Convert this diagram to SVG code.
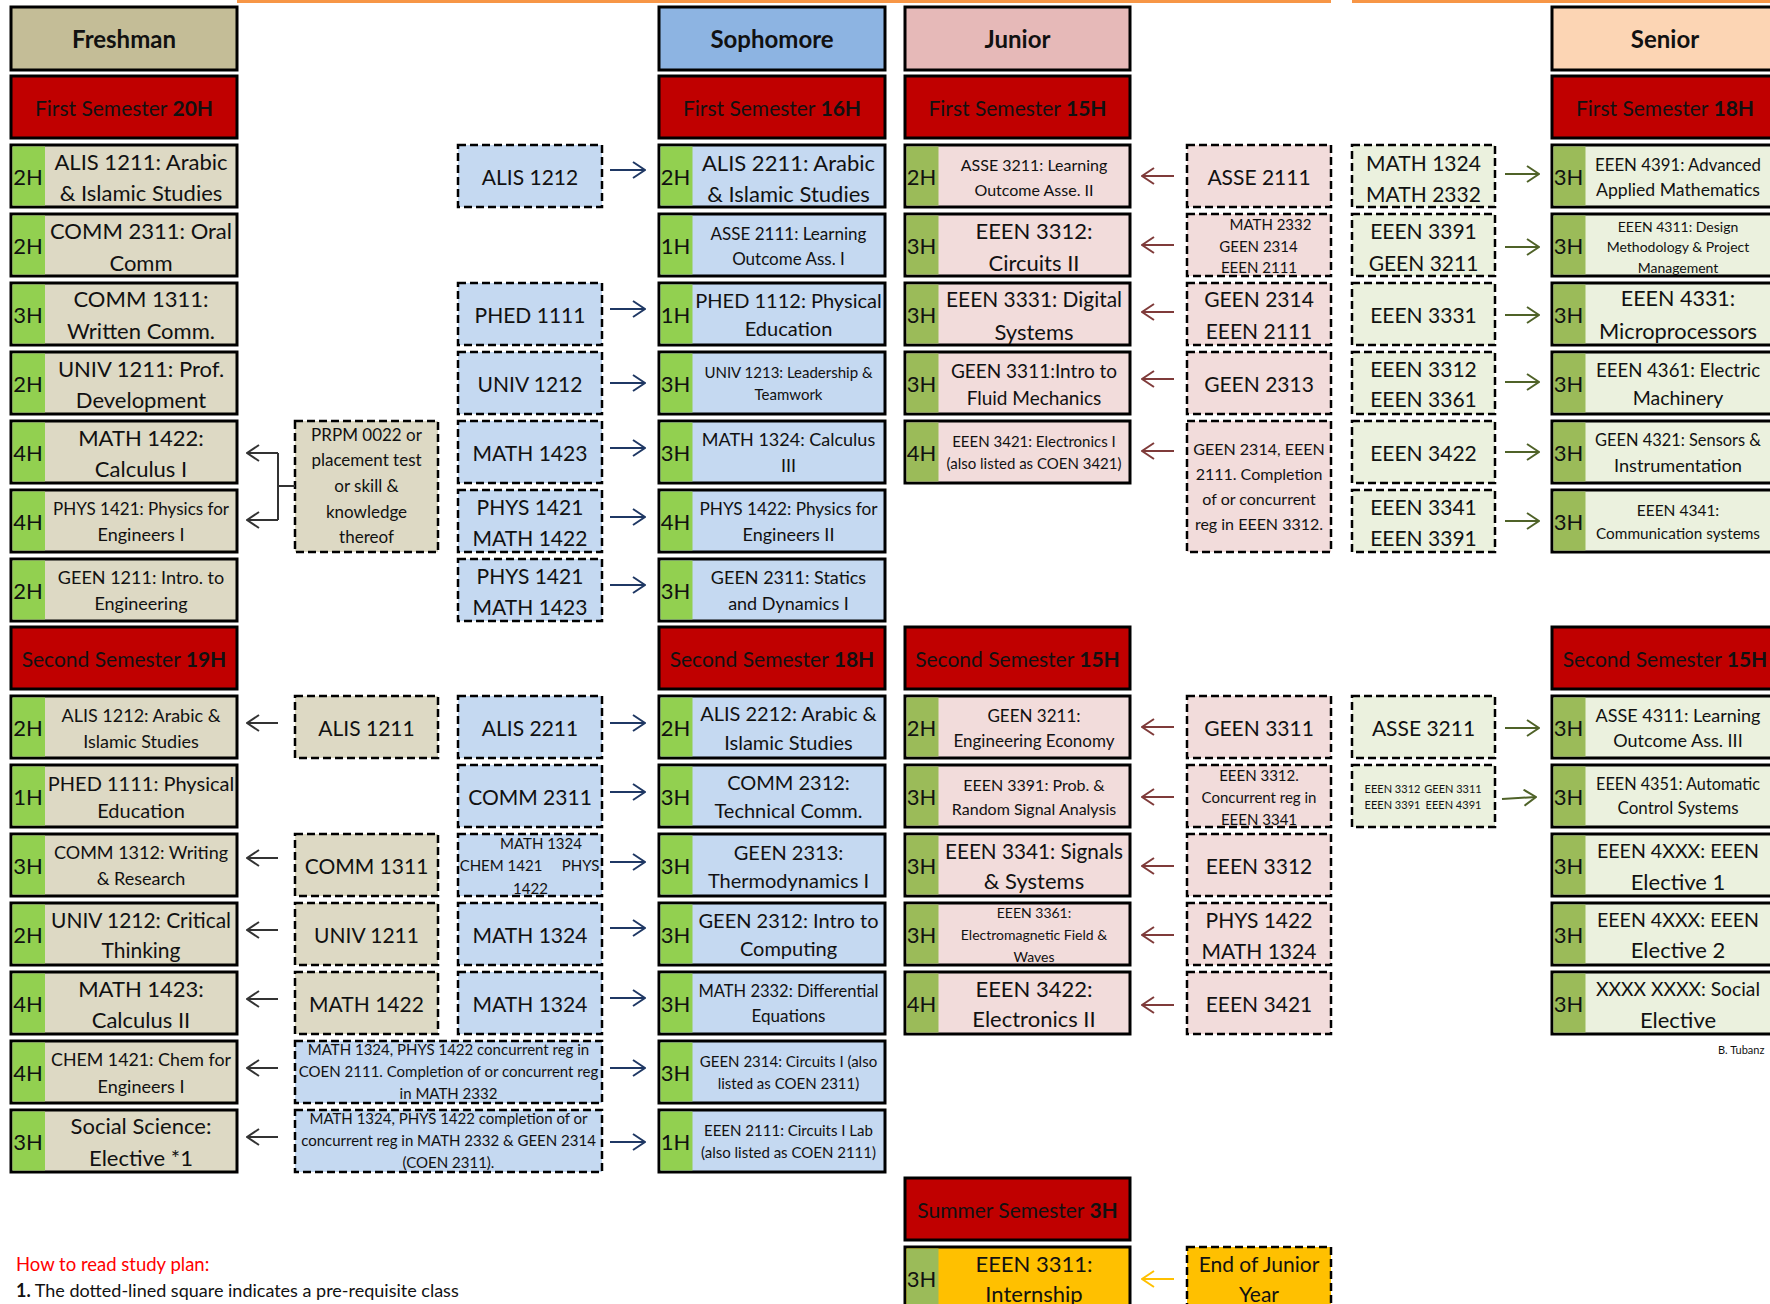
<svg xmlns="http://www.w3.org/2000/svg" width="1770" height="1304" viewBox="0 0 1770 1304">
<style>
text{font-family:Lato,"Liberation Sans",sans-serif;fill:#111;text-anchor:middle;dominant-baseline:central}
.hd{font-weight:bold;font-size:24px}
.sm{font-size:21px}
.bo{font-weight:bold}
.box{stroke:#000;stroke-width:3}
.dash{stroke:#000;stroke-width:2.5;stroke-dasharray:8 4}
.fr{fill:#DDD9C4}.so{fill:#C5D9F1}.ju{fill:#F2DCDB}.se{fill:#EBF1DE}
.frh{fill:#C4BD97}.soh{fill:#8DB4E2}.juh{fill:#E6B9B8}.seh{fill:#FCD5B4}
.red{fill:#C00000}.yl{fill:#FFC000}
.g1{fill:#92D050}.g2{fill:#9BBB59}
.f22{font-size:22px}.f21{font-size:21px}.f20{font-size:20px}.f19{font-size:19px}.f18{font-size:18px}.f17{font-size:17px}.f16{font-size:16px}.f15{font-size:15px}.f14{font-size:14px}.f11{font-size:11px}
.af{stroke:#333;stroke-width:2;fill:none}
.as{stroke:#1F3864;stroke-width:2}
.aj{stroke:#7F3B3A;stroke-width:2}
.ae{stroke:#4F6228;stroke-width:2}
.ay{stroke:#FFC000;stroke-width:2}
</style>
<defs>
<marker id="mf" viewBox="0 0 14 18" refX="13" refY="9" markerWidth="14" markerHeight="18" markerUnits="userSpaceOnUse" orient="auto"><path d="M1,1 L13,9 L1,17" fill="none" stroke="#333" stroke-width="2"/></marker>
<marker id="ms" viewBox="0 0 14 18" refX="13" refY="9" markerWidth="14" markerHeight="18" markerUnits="userSpaceOnUse" orient="auto"><path d="M1,1 L13,9 L1,17" fill="none" stroke="#1F3864" stroke-width="2"/></marker>
<marker id="mj" viewBox="0 0 14 18" refX="13" refY="9" markerWidth="14" markerHeight="18" markerUnits="userSpaceOnUse" orient="auto"><path d="M1,1 L13,9 L1,17" fill="none" stroke="#7F3B3A" stroke-width="2"/></marker>
<marker id="me" viewBox="0 0 14 18" refX="13" refY="9" markerWidth="14" markerHeight="18" markerUnits="userSpaceOnUse" orient="auto"><path d="M1,1 L13,9 L1,17" fill="none" stroke="#4F6228" stroke-width="2"/></marker>
<marker id="my" viewBox="0 0 14 18" refX="13" refY="9" markerWidth="14" markerHeight="18" markerUnits="userSpaceOnUse" orient="auto"><path d="M1,1 L13,9 L1,17" fill="none" stroke="#FFC000" stroke-width="2"/></marker>
</defs>
<rect width="1770" height="1304" fill="#fff"/>
<rect x="237" y="0" width="1094" height="3" fill="#F79646"/>
<rect x="1352" y="0" width="418" height="3" fill="#F79646"/>

<!-- ===== FRESHMAN ===== -->
<g id="fr-head"><rect class="box frh" x="11" y="7" width="226" height="63"/><text class="hd" x="124" y="38.5">Freshman</text></g>
<g id="fr-sem1"><rect class="box red" x="11" y="76" width="226" height="62"/><text class="sm" x="124" y="107">First Semester <tspan class="bo">20H</tspan></text></g>
<g id="fr-alis1211"><rect class="box fr" x="11" y="145" width="226" height="62"/><rect class="g1" x="12.5" y="146.5" width="32.5" height="59"/><text class="f22" x="28" y="176">2H</text><text class="f22"><tspan x="141" y="161">ALIS 1211: Arabic</tspan><tspan x="141" y="192">&amp; Islamic Studies</tspan></text></g>
<g id="fr-comm2311"><rect class="box fr" x="11" y="214" width="226" height="62"/><rect class="g1" x="12.5" y="215.5" width="32.5" height="59"/><text class="f22" x="28" y="245">2H</text><text class="f22"><tspan x="141" y="230">COMM 2311: Oral</tspan><tspan x="141" y="262">Comm</tspan></text></g>
<g id="fr-comm1311"><rect class="box fr" x="11" y="283" width="226" height="62"/><rect class="g1" x="12.5" y="284.5" width="32.5" height="59"/><text class="f22" x="28" y="314">3H</text><text class="f22"><tspan x="141" y="298">COMM 1311:</tspan><tspan x="141" y="330">Written Comm.</tspan></text></g>
<g id="fr-univ1211"><rect class="box fr" x="11" y="352" width="226" height="62"/><rect class="g1" x="12.5" y="353.5" width="32.5" height="59"/><text class="f22" x="28" y="383">2H</text><text class="f22"><tspan x="141" y="368">UNIV 1211: Prof.</tspan><tspan x="141" y="399">Development</tspan></text></g>
<g id="fr-math1422"><rect class="box fr" x="11" y="421" width="226" height="62"/><rect class="g1" x="12.5" y="422.5" width="32.5" height="59"/><text class="f22" x="28" y="452">4H</text><text class="f22"><tspan x="141" y="437">MATH 1422:</tspan><tspan x="141" y="468">Calculus I</tspan></text></g>
<g id="fr-phys1421"><rect class="box fr" x="11" y="490" width="226" height="62"/><rect class="g1" x="12.5" y="491.5" width="32.5" height="59"/><text class="f22" x="28" y="521">4H</text><text class="f18"><tspan x="141" y="508" textLength="176" lengthAdjust="spacingAndGlyphs">PHYS 1421: Physics for</tspan><tspan x="141" y="534">Engineers I</tspan></text></g>
<g id="fr-geen1211"><rect class="box fr" x="11" y="559" width="226" height="62"/><rect class="g1" x="12.5" y="560.5" width="32.5" height="59"/><text class="f22" x="28" y="590">2H</text><text class="f18"><tspan x="141" y="577">GEEN 1211: Intro. to</tspan><tspan x="141" y="603">Engineering</tspan></text></g>
<g id="fr-sem2"><rect class="box red" x="11" y="627" width="226" height="62"/><text class="sm" x="124" y="658">Second Semester <tspan class="bo">19H</tspan></text></g>
<g id="fr-alis1212"><rect class="box fr" x="11" y="696" width="226" height="62"/><rect class="g1" x="12.5" y="697.5" width="32.5" height="59"/><text class="f22" x="28" y="727">2H</text><text class="f18"><tspan x="141" y="715">ALIS 1212: Arabic &amp;</tspan><tspan x="141" y="741">Islamic Studies</tspan></text></g>
<g id="fr-phed1111"><rect class="box fr" x="11" y="765" width="226" height="62"/><rect class="g1" x="12.5" y="766.5" width="32.5" height="59"/><text class="f22" x="28" y="796">1H</text><text class="f20"><tspan x="141" y="783">PHED 1111: Physical</tspan><tspan x="141" y="810">Education</tspan></text></g>
<g id="fr-comm1312"><rect class="box fr" x="11" y="834" width="226" height="62"/><rect class="g1" x="12.5" y="835.5" width="32.5" height="59"/><text class="f22" x="28" y="865">3H</text><text class="f18"><tspan x="141" y="852">COMM 1312: Writing</tspan><tspan x="141" y="878">&amp; Research</tspan></text></g>
<g id="fr-univ1212"><rect class="box fr" x="11" y="903" width="226" height="62"/><rect class="g1" x="12.5" y="904.5" width="32.5" height="59"/><text class="f22" x="28" y="934">2H</text><text class="f21"><tspan x="141" y="919" textLength="180" lengthAdjust="spacingAndGlyphs">UNIV 1212: Critical</tspan><tspan x="141" y="949">Thinking</tspan></text></g>
<g id="fr-math1423"><rect class="box fr" x="11" y="972" width="226" height="62"/><rect class="g1" x="12.5" y="973.5" width="32.5" height="59"/><text class="f22" x="28" y="1003">4H</text><text class="f22"><tspan x="141" y="988">MATH 1423:</tspan><tspan x="141" y="1019">Calculus II</tspan></text></g>
<g id="fr-chem1421"><rect class="box fr" x="11" y="1041" width="226" height="62"/><rect class="g1" x="12.5" y="1042.5" width="32.5" height="59"/><text class="f22" x="28" y="1072">4H</text><text class="f18"><tspan x="141" y="1059" textLength="180" lengthAdjust="spacingAndGlyphs">CHEM 1421: Chem for</tspan><tspan x="141" y="1086">Engineers I</tspan></text></g>
<g id="fr-social"><rect class="box fr" x="11" y="1110" width="226" height="62"/><rect class="g1" x="12.5" y="1111.5" width="32.5" height="59"/><text class="f22" x="28" y="1141">3H</text><text class="f22"><tspan x="141" y="1125">Social Science:</tspan><tspan x="141" y="1157">Elective *1</tspan></text></g>

<!-- Freshman prerequisite column -->
<g id="p1-prpm"><rect class="dash fr" x="295" y="421" width="143" height="131"/><text class="f17"><tspan x="366.5" y="434">PRPM 0022 or</tspan><tspan x="366.5" y="459">placement test</tspan><tspan x="366.5" y="485">or skill &amp;</tspan><tspan x="366.5" y="511">knowledge</tspan><tspan x="366.5" y="536">thereof</tspan></text></g>
<g id="p1-alis1211"><rect class="dash fr" x="295" y="696" width="143" height="62"/><text class="f21" x="366.5" y="727">ALIS 1211</text></g>
<g id="p1-comm1311"><rect class="dash fr" x="295" y="834" width="143" height="62"/><text class="f21" x="366.5" y="865">COMM 1311</text></g>
<g id="p1-univ1211"><rect class="dash fr" x="295" y="903" width="143" height="62"/><text class="f21" x="366.5" y="934">UNIV 1211</text></g>
<g id="p1-math1422"><rect class="dash fr" x="295" y="972" width="143" height="62"/><text class="f21" x="366.5" y="1003">MATH 1422</text></g>

<!-- Sophomore prerequisite column -->
<g id="p2-alis1212"><rect class="dash so" x="458" y="145" width="144" height="62"/><text class="f21" x="530" y="176">ALIS 1212</text></g>
<g id="p2-phed1111"><rect class="dash so" x="458" y="283" width="144" height="62"/><text class="f21" x="530" y="314">PHED 1111</text></g>
<g id="p2-univ1212"><rect class="dash so" x="458" y="352" width="144" height="62"/><text class="f21" x="530" y="383">UNIV 1212</text></g>
<g id="p2-math1423"><rect class="dash so" x="458" y="421" width="144" height="62"/><text class="f21" x="530" y="452">MATH 1423</text></g>
<g id="p2-phys-math1422"><rect class="dash so" x="458" y="490" width="144" height="62"/><text class="f21"><tspan x="530" y="506">PHYS 1421</tspan><tspan x="530" y="537">MATH 1422</tspan></text></g>
<g id="p2-phys-math1423"><rect class="dash so" x="458" y="559" width="144" height="62"/><text class="f21"><tspan x="530" y="575">PHYS 1421</tspan><tspan x="530" y="606">MATH 1423</tspan></text></g>
<g id="p2-alis2211"><rect class="dash so" x="458" y="696" width="144" height="62"/><text class="f21" x="530" y="727">ALIS 2211</text></g>
<g id="p2-comm2311"><rect class="dash so" x="458" y="765" width="144" height="62"/><text class="f21" x="530" y="796">COMM 2311</text></g>
<g id="p2-math-chem-phys"><rect class="dash so" x="458" y="834" width="144" height="62"/><text class="f15"><tspan x="541" y="843">MATH 1324</tspan><tspan x="501" y="865">CHEM 1421</tspan><tspan x="580.5" y="865">PHYS</tspan><tspan x="530.5" y="888">1422</tspan></text></g>
<g id="p2-math1324a"><rect class="dash so" x="458" y="903" width="144" height="62"/><text class="f21" x="530" y="934">MATH 1324</text></g>
<g id="p2-math1324b"><rect class="dash so" x="458" y="972" width="144" height="62"/><text class="f21" x="530" y="1003">MATH 1324</text></g>
<g id="p2-wide1"><rect class="dash so" x="295" y="1041" width="307" height="62"/><text class="f15"><tspan x="448.5" y="1049">MATH 1324, PHYS 1422 concurrent reg in</tspan><tspan x="448.5" y="1071">COEN 2111. Completion of or concurrent reg</tspan><tspan x="448.5" y="1093">in MATH 2332</tspan></text></g>
<g id="p2-wide2"><rect class="dash so" x="295" y="1110" width="307" height="62"/><text class="f15"><tspan x="448.5" y="1118">MATH 1324, PHYS 1422 completion of or</tspan><tspan x="448.5" y="1140">concurrent reg in MATH 2332 &amp; GEEN 2314</tspan><tspan x="448.5" y="1162">(COEN 2311).</tspan></text></g>

<!-- ===== SOPHOMORE ===== -->
<g id="so-head"><rect class="box soh" x="659" y="7" width="226" height="63"/><text class="hd" x="772" y="38.5">Sophomore</text></g>
<g id="so-sem1"><rect class="box red" x="659" y="76" width="226" height="62"/><text class="sm" x="772" y="107">First Semester <tspan class="bo">16H</tspan></text></g>
<g id="so-alis2211"><rect class="box so" x="659" y="145" width="226" height="62"/><rect class="g1" x="660.5" y="146.5" width="32" height="59"/><text class="f22" x="675.5" y="176">2H</text><text class="f22"><tspan x="788.5" y="162">ALIS 2211: Arabic</tspan><tspan x="788.5" y="193">&amp; Islamic Studies</tspan></text></g>
<g id="so-asse2111"><rect class="box so" x="659" y="214" width="226" height="62"/><rect class="g1" x="660.5" y="215.5" width="32" height="59"/><text class="f22" x="675.5" y="245">1H</text><text class="f17"><tspan x="788.5" y="233">ASSE 2111: Learning</tspan><tspan x="788.5" y="258">Outcome Ass. I</tspan></text></g>
<g id="so-phed1112"><rect class="box so" x="659" y="283" width="226" height="62"/><rect class="g1" x="660.5" y="284.5" width="32" height="59"/><text class="f22" x="675.5" y="314">1H</text><text class="f20"><tspan x="788.5" y="300">PHED 1112: Physical</tspan><tspan x="788.5" y="328">Education</tspan></text></g>
<g id="so-univ1213"><rect class="box so" x="659" y="352" width="226" height="62"/><rect class="g1" x="660.5" y="353.5" width="32" height="59"/><text class="f22" x="675.5" y="383">3H</text><text class="f15"><tspan x="788.5" y="372">UNIV 1213: Leadership &amp;</tspan><tspan x="788.5" y="394">Teamwork</tspan></text></g>
<g id="so-math1324"><rect class="box so" x="659" y="421" width="226" height="62"/><rect class="g1" x="660.5" y="422.5" width="32" height="59"/><text class="f22" x="675.5" y="452">3H</text><text class="f18"><tspan x="788.5" y="439">MATH 1324: Calculus</tspan><tspan x="788.5" y="465">III</tspan></text></g>
<g id="so-phys1422"><rect class="box so" x="659" y="490" width="226" height="62"/><rect class="g1" x="660.5" y="491.5" width="32" height="59"/><text class="f22" x="675.5" y="521">4H</text><text class="f18"><tspan x="788.5" y="508" textLength="178" lengthAdjust="spacingAndGlyphs">PHYS 1422: Physics for</tspan><tspan x="788.5" y="534">Engineers II</tspan></text></g>
<g id="so-geen2311"><rect class="box so" x="659" y="559" width="226" height="62"/><rect class="g1" x="660.5" y="560.5" width="32" height="59"/><text class="f22" x="675.5" y="590">3H</text><text class="f18"><tspan x="788.5" y="577">GEEN 2311: Statics</tspan><tspan x="788.5" y="603">and Dynamics I</tspan></text></g>
<g id="so-sem2"><rect class="box red" x="659" y="627" width="226" height="62"/><text class="sm" x="772" y="658">Second Semester <tspan class="bo">18H</tspan></text></g>
<g id="so-alis2212"><rect class="box so" x="659" y="696" width="226" height="62"/><rect class="g1" x="660.5" y="697.5" width="32" height="59"/><text class="f22" x="675.5" y="727">2H</text><text class="f20"><tspan x="788.5" y="713">ALIS 2212: Arabic &amp;</tspan><tspan x="788.5" y="742">Islamic Studies</tspan></text></g>
<g id="so-comm2312"><rect class="box so" x="659" y="765" width="226" height="62"/><rect class="g1" x="660.5" y="766.5" width="32" height="59"/><text class="f22" x="675.5" y="796">3H</text><text class="f20"><tspan x="788.5" y="782">COMM 2312:</tspan><tspan x="788.5" y="810">Technical Comm.</tspan></text></g>
<g id="so-geen2313"><rect class="box so" x="659" y="834" width="226" height="62"/><rect class="g1" x="660.5" y="835.5" width="32" height="59"/><text class="f22" x="675.5" y="865">3H</text><text class="f20"><tspan x="788.5" y="852">GEEN 2313:</tspan><tspan x="788.5" y="880">Thermodynamics I</tspan></text></g>
<g id="so-geen2312"><rect class="box so" x="659" y="903" width="226" height="62"/><rect class="g1" x="660.5" y="904.5" width="32" height="59"/><text class="f22" x="675.5" y="934">3H</text><text class="f20"><tspan x="788.5" y="920">GEEN 2312: Intro to</tspan><tspan x="788.5" y="948">Computing</tspan></text></g>
<g id="so-math2332"><rect class="box so" x="659" y="972" width="226" height="62"/><rect class="g1" x="660.5" y="973.5" width="32" height="59"/><text class="f22" x="675.5" y="1003">3H</text><text class="f17"><tspan x="788.5" y="990" textLength="180" lengthAdjust="spacingAndGlyphs">MATH 2332: Differential</tspan><tspan x="788.5" y="1015">Equations</tspan></text></g>
<g id="so-geen2314"><rect class="box so" x="659" y="1041" width="226" height="62"/><rect class="g1" x="660.5" y="1042.5" width="32" height="59"/><text class="f22" x="675.5" y="1072">3H</text><text class="f15"><tspan x="788.5" y="1061">GEEN 2314: Circuits I (also</tspan><tspan x="788.5" y="1083">listed as COEN 2311)</tspan></text></g>
<g id="so-eeen2111"><rect class="box so" x="659" y="1110" width="226" height="62"/><rect class="g1" x="660.5" y="1111.5" width="32" height="59"/><text class="f22" x="675.5" y="1141">1H</text><text class="f15"><tspan x="788.5" y="1130">EEEN 2111: Circuits I Lab</tspan><tspan x="788.5" y="1152">(also listed as COEN 2111)</tspan></text></g>

<!-- ===== JUNIOR ===== -->
<g id="ju-head"><rect class="box juh" x="905" y="7" width="225" height="63"/><text class="hd" x="1017.5" y="38.5">Junior</text></g>
<g id="ju-sem1"><rect class="box red" x="905" y="76" width="225" height="62"/><text class="sm" x="1017.5" y="107">First Semester <tspan class="bo">15H</tspan></text></g>
<g id="ju-asse3211"><rect class="box ju" x="905" y="145" width="225" height="62"/><rect class="g2" x="906.5" y="146.5" width="32" height="59"/><text class="f22" x="921.5" y="176">2H</text><text class="f16"><tspan x="1034" y="164">ASSE 3211: Learning</tspan><tspan x="1034" y="189">Outcome Asse. II</tspan></text></g>
<g id="ju-eeen3312"><rect class="box ju" x="905" y="214" width="225" height="62"/><rect class="g2" x="906.5" y="215.5" width="32" height="59"/><text class="f22" x="921.5" y="245">3H</text><text class="f22"><tspan x="1034" y="230">EEEN 3312:</tspan><tspan x="1034" y="262">Circuits II</tspan></text></g>
<g id="ju-eeen3331"><rect class="box ju" x="905" y="283" width="225" height="62"/><rect class="g2" x="906.5" y="284.5" width="32" height="59"/><text class="f22" x="921.5" y="314">3H</text><text class="f22"><tspan x="1034" y="298" textLength="176" lengthAdjust="spacingAndGlyphs">EEEN 3331: Digital</tspan><tspan x="1034" y="331">Systems</tspan></text></g>
<g id="ju-geen3311"><rect class="box ju" x="905" y="352" width="225" height="62"/><rect class="g2" x="906.5" y="353.5" width="32" height="59"/><text class="f22" x="921.5" y="383">3H</text><text class="f19"><tspan x="1034" y="370">GEEN 3311:Intro to</tspan><tspan x="1034" y="397">Fluid Mechanics</tspan></text></g>
<g id="ju-eeen3421"><rect class="box ju" x="905" y="421" width="225" height="62"/><rect class="g2" x="906.5" y="422.5" width="32" height="59"/><text class="f22" x="921.5" y="452">4H</text><text class="f15"><tspan x="1034" y="441">EEEN 3421: Electronics I</tspan><tspan x="1034" y="463">(also listed as COEN 3421)</tspan></text></g>
<g id="ju-sem2"><rect class="box red" x="905" y="627" width="225" height="62"/><text class="sm" x="1017.5" y="658">Second Semester <tspan class="bo">15H</tspan></text></g>
<g id="ju-geen3211"><rect class="box ju" x="905" y="696" width="225" height="62"/><rect class="g2" x="906.5" y="697.5" width="32" height="59"/><text class="f22" x="921.5" y="727">2H</text><text class="f17"><tspan x="1034" y="715">GEEN 3211:</tspan><tspan x="1034" y="740">Engineering Economy</tspan></text></g>
<g id="ju-eeen3391"><rect class="box ju" x="905" y="765" width="225" height="62"/><rect class="g2" x="906.5" y="766.5" width="32" height="59"/><text class="f22" x="921.5" y="796">3H</text><text class="f16"><tspan x="1034" y="784">EEEN 3391: Prob. &amp;</tspan><tspan x="1034" y="808">Random Signal Analysis</tspan></text></g>
<g id="ju-eeen3341"><rect class="box ju" x="905" y="834" width="225" height="62"/><rect class="g2" x="906.5" y="835.5" width="32" height="59"/><text class="f22" x="921.5" y="865">3H</text><text class="f22"><tspan x="1034" y="850" textLength="178" lengthAdjust="spacingAndGlyphs">EEEN 3341: Signals</tspan><tspan x="1034" y="880">&amp; Systems</tspan></text></g>
<g id="ju-eeen3361"><rect class="box ju" x="905" y="903" width="225" height="62"/><rect class="g2" x="906.5" y="904.5" width="32" height="59"/><text class="f22" x="921.5" y="934">3H</text><text class="f14"><tspan x="1034" y="912">EEEN 3361:</tspan><tspan x="1034" y="934">Electromagnetic Field &amp;</tspan><tspan x="1034" y="956">Waves</tspan></text></g>
<g id="ju-eeen3422"><rect class="box ju" x="905" y="972" width="225" height="62"/><rect class="g2" x="906.5" y="973.5" width="32" height="59"/><text class="f22" x="921.5" y="1003">4H</text><text class="f22"><tspan x="1034" y="988">EEEN 3422:</tspan><tspan x="1034" y="1018">Electronics II</tspan></text></g>
<g id="ju-summer"><rect class="box red" x="905" y="1178" width="225" height="62"/><text class="sm" x="1017.5" y="1209">Summer Semester <tspan class="bo">3H</tspan></text></g>
<g id="ju-eeen3311"><rect class="box yl" x="905" y="1247" width="225" height="62"/><rect class="g2" x="906.5" y="1248.5" width="32" height="59"/><text class="f22" x="921.5" y="1278">3H</text><text class="f22"><tspan x="1034" y="1263">EEEN 3311:</tspan><tspan x="1034" y="1293">Internship</tspan></text></g>

<!-- Junior prerequisite column -->
<g id="pj-asse2111"><rect class="dash ju" x="1187" y="145" width="144" height="62"/><text class="f21" x="1259" y="176">ASSE 2111</text></g>
<g id="pj-math-geen-eeen"><rect class="dash ju" x="1187" y="214" width="144" height="62"/><text class="f15"><tspan x="1270.5" y="224">MATH 2332</tspan><tspan x="1258.5" y="246">GEEN 2314</tspan><tspan x="1259" y="267">EEEN 2111</tspan></text></g>
<g id="pj-geen2314-eeen2111"><rect class="dash ju" x="1187" y="283" width="144" height="62"/><text class="f21"><tspan x="1259" y="298">GEEN 2314</tspan><tspan x="1259" y="330">EEEN 2111</tspan></text></g>
<g id="pj-geen2313"><rect class="dash ju" x="1187" y="352" width="144" height="62"/><text class="f21" x="1259" y="383">GEEN 2313</text></g>
<g id="pj-long"><rect class="dash ju" x="1187" y="421" width="144" height="131"/><text class="f16"><tspan x="1259" y="448">GEEN 2314, EEEN</tspan><tspan x="1259" y="473">2111. Completion</tspan><tspan x="1259" y="498">of or concurrent</tspan><tspan x="1259" y="523">reg in EEEN 3312.</tspan></text></g>
<g id="pj-geen3311"><rect class="dash ju" x="1187" y="696" width="144" height="62"/><text class="f21" x="1259" y="727">GEEN 3311</text></g>
<g id="pj-eeen3312-conc"><rect class="dash ju" x="1187" y="765" width="144" height="62"/><text class="f15"><tspan x="1259" y="775">EEEN 3312.</tspan><tspan x="1259" y="797">Concurrent reg in</tspan><tspan x="1259" y="819">EEEN 3341</tspan></text></g>
<g id="pj-eeen3312"><rect class="dash ju" x="1187" y="834" width="144" height="62"/><text class="f21" x="1259" y="865">EEEN 3312</text></g>
<g id="pj-phys-math"><rect class="dash ju" x="1187" y="903" width="144" height="62"/><text class="f21"><tspan x="1259" y="919">PHYS 1422</tspan><tspan x="1259" y="950">MATH 1324</tspan></text></g>
<g id="pj-eeen3421"><rect class="dash ju" x="1187" y="972" width="144" height="62"/><text class="f21" x="1259" y="1003">EEEN 3421</text></g>
<g id="pj-endjunior"><rect class="dash yl" x="1187" y="1247" width="144" height="62"/><text class="f21"><tspan x="1259" y="1263">End of Junior</tspan><tspan x="1259" y="1293">Year</tspan></text></g>

<!-- Senior prerequisite column -->
<g id="ps-math"><rect class="dash se" x="1352" y="145" width="143" height="62"/><text class="f21"><tspan x="1423.5" y="162">MATH 1324</tspan><tspan x="1423.5" y="193">MATH 2332</tspan></text></g>
<g id="ps-eeen3391-geen3211"><rect class="dash se" x="1352" y="214" width="143" height="62"/><text class="f21"><tspan x="1423.5" y="230">EEEN 3391</tspan><tspan x="1423.5" y="262">GEEN 3211</tspan></text></g>
<g id="ps-eeen3331"><rect class="dash se" x="1352" y="283" width="143" height="62"/><text class="f21" x="1423.5" y="314">EEEN 3331</text></g>
<g id="ps-eeen3312-3361"><rect class="dash se" x="1352" y="352" width="143" height="62"/><text class="f21"><tspan x="1423.5" y="368">EEEN 3312</tspan><tspan x="1423.5" y="398">EEEN 3361</tspan></text></g>
<g id="ps-eeen3422"><rect class="dash se" x="1352" y="421" width="143" height="62"/><text class="f21" x="1423.5" y="452">EEEN 3422</text></g>
<g id="ps-eeen3341-3391"><rect class="dash se" x="1352" y="490" width="143" height="62"/><text class="f21"><tspan x="1423.5" y="506">EEEN 3341</tspan><tspan x="1423.5" y="537">EEEN 3391</tspan></text></g>
<g id="ps-asse3211"><rect class="dash se" x="1352" y="696" width="143" height="62"/><text class="f21" x="1423.5" y="727">ASSE 3211</text></g>
<g id="ps-four"><rect class="dash se" x="1352" y="765" width="143" height="62"/><text class="f11"><tspan x="1392.5" y="788">EEEN 3312</tspan><tspan x="1453" y="788">GEEN 3311</tspan><tspan x="1392.5" y="804">EEEN 3391</tspan><tspan x="1453.5" y="804">EEEN 4391</tspan></text></g>

<!-- ===== SENIOR ===== -->
<g id="se-head"><rect class="box seh" x="1552" y="7" width="226" height="63"/><text class="hd" x="1665" y="38.5">Senior</text></g>
<g id="se-sem1"><rect class="box red" x="1552" y="76" width="226" height="62"/><text class="sm" x="1665" y="107">First Semester <tspan class="bo">18H</tspan></text></g>
<g id="se-eeen4391"><rect class="box se" x="1552" y="145" width="226" height="62"/><rect class="g2" x="1553.5" y="146.5" width="32" height="59"/><text class="f22" x="1568.5" y="176">3H</text><text style="font-size:17.5px"><tspan x="1678" y="164" textLength="166" lengthAdjust="spacingAndGlyphs">EEEN 4391: Advanced</tspan><tspan x="1678" y="189" textLength="164" lengthAdjust="spacingAndGlyphs">Applied Mathematics</tspan></text></g>
<g id="se-eeen4311"><rect class="box se" x="1552" y="214" width="226" height="62"/><rect class="g2" x="1553.5" y="215.5" width="32" height="59"/><text class="f22" x="1568.5" y="245">3H</text><text class="f14"><tspan x="1678" y="226">EEEN 4311: Design</tspan><tspan x="1678" y="246">Methodology &amp; Project</tspan><tspan x="1678" y="267">Management</tspan></text></g>
<g id="se-eeen4331"><rect class="box se" x="1552" y="283" width="226" height="62"/><rect class="g2" x="1553.5" y="284.5" width="32" height="59"/><text class="f22" x="1568.5" y="314">3H</text><text style="font-size:21.5px"><tspan x="1678" y="298">EEEN 4331:</tspan><tspan x="1678" y="331" textLength="158" lengthAdjust="spacingAndGlyphs">Microprocessors</tspan></text></g>
<g id="se-eeen4361"><rect class="box se" x="1552" y="352" width="226" height="62"/><rect class="g2" x="1553.5" y="353.5" width="32" height="59"/><text class="f22" x="1568.5" y="383">3H</text><text style="font-size:19.5px"><tspan x="1678" y="369" textLength="164" lengthAdjust="spacingAndGlyphs">EEEN 4361: Electric</tspan><tspan x="1678" y="397">Machinery</tspan></text></g>
<g id="se-geen4321"><rect class="box se" x="1552" y="421" width="226" height="62"/><rect class="g2" x="1553.5" y="422.5" width="32" height="59"/><text class="f22" x="1568.5" y="452">3H</text><text class="f17"><tspan x="1678" y="439" textLength="166" lengthAdjust="spacingAndGlyphs">GEEN 4321: Sensors &amp;</tspan><tspan x="1678" y="465" textLength="128" lengthAdjust="spacingAndGlyphs">Instrumentation</tspan></text></g>
<g id="se-eeen4341"><rect class="box se" x="1552" y="490" width="226" height="62"/><rect class="g2" x="1553.5" y="491.5" width="32" height="59"/><text class="f22" x="1568.5" y="521">3H</text><text style="font-size:15.5px"><tspan x="1678" y="510">EEEN 4341:</tspan><tspan x="1678" y="533" textLength="164" lengthAdjust="spacingAndGlyphs">Communication systems</tspan></text></g>
<g id="se-sem2"><rect class="box red" x="1552" y="627" width="226" height="62"/><text class="sm" x="1665" y="658">Second Semester <tspan class="bo">15H</tspan></text></g>
<g id="se-asse4311"><rect class="box se" x="1552" y="696" width="226" height="62"/><rect class="g2" x="1553.5" y="697.5" width="32" height="59"/><text class="f22" x="1568.5" y="727">3H</text><text class="f18"><tspan x="1678" y="715">ASSE 4311: Learning</tspan><tspan x="1678" y="740">Outcome Ass. III</tspan></text></g>
<g id="se-eeen4351"><rect class="box se" x="1552" y="765" width="226" height="62"/><rect class="g2" x="1553.5" y="766.5" width="32" height="59"/><text class="f22" x="1568.5" y="796">3H</text><text style="font-size:16.5px"><tspan x="1678" y="784" textLength="164" lengthAdjust="spacingAndGlyphs">EEEN 4351: Automatic</tspan><tspan x="1678" y="808" textLength="121" lengthAdjust="spacingAndGlyphs">Control Systems</tspan></text></g>
<g id="se-elective1"><rect class="box se" x="1552" y="834" width="226" height="62"/><rect class="g2" x="1553.5" y="835.5" width="32" height="59"/><text class="f22" x="1568.5" y="865">3H</text><text class="f20"><tspan x="1678" y="850" textLength="162" lengthAdjust="spacingAndGlyphs">EEEN 4XXX: EEEN</tspan><tspan x="1678" y="881" style="font-size:22px">Elective 1</tspan></text></g>
<g id="se-elective2"><rect class="box se" x="1552" y="903" width="226" height="62"/><rect class="g2" x="1553.5" y="904.5" width="32" height="59"/><text class="f22" x="1568.5" y="934">3H</text><text class="f20"><tspan x="1678" y="919" textLength="162" lengthAdjust="spacingAndGlyphs">EEEN 4XXX: EEEN</tspan><tspan x="1678" y="949" style="font-size:22px">Elective 2</tspan></text></g>
<g id="se-social"><rect class="box se" x="1552" y="972" width="226" height="62"/><rect class="g2" x="1553.5" y="973.5" width="32" height="59"/><text class="f22" x="1568.5" y="1003">3H</text><text class="f20"><tspan x="1678" y="988" textLength="164" lengthAdjust="spacingAndGlyphs">XXXX XXXX: Social</tspan><tspan x="1678" y="1019" style="font-size:22px">Elective</tspan></text></g>

<!-- ===== CONNECTORS ===== -->
<g id="connectors">
<path class="af" d="M295,486 H278 M278,453 V520"/>
<g class="af" marker-end="url(#mf)">
<line x1="278" y1="453" x2="247" y2="453"/><line x1="278" y1="520" x2="247" y2="520"/>
<line x1="278" y1="723" x2="247" y2="723"/><line x1="278" y1="858" x2="247" y2="858"/>
<line x1="278" y1="930" x2="247" y2="930"/><line x1="278" y1="999" x2="247" y2="999"/>
<line x1="278" y1="1068" x2="247" y2="1068"/><line x1="278" y1="1137" x2="247" y2="1137"/>
</g>
<g class="as" marker-end="url(#ms)">
<line x1="610" y1="170" x2="645" y2="170"/><line x1="610" y1="309" x2="645" y2="309"/>
<line x1="610" y1="383" x2="645" y2="383"/><line x1="610" y1="448" x2="645" y2="448"/>
<line x1="610" y1="517" x2="645" y2="517"/><line x1="610" y1="585" x2="645" y2="585"/>
<line x1="610" y1="723" x2="645" y2="723"/><line x1="610" y1="792" x2="645" y2="792"/>
<line x1="610" y1="862" x2="645" y2="862"/><line x1="610" y1="928" x2="645" y2="928"/>
<line x1="610" y1="998" x2="645" y2="998"/><line x1="610" y1="1068" x2="645" y2="1068"/>
<line x1="610" y1="1142" x2="645" y2="1142"/>
</g>
<g class="aj" marker-end="url(#mj)">
<line x1="1174" y1="176" x2="1142" y2="176"/><line x1="1174" y1="245" x2="1142" y2="245"/>
<line x1="1174" y1="312" x2="1142" y2="312"/><line x1="1174" y1="379" x2="1142" y2="379"/>
<line x1="1174" y1="451" x2="1142" y2="451"/><line x1="1174" y1="727" x2="1142" y2="727"/>
<line x1="1174" y1="797" x2="1142" y2="797"/><line x1="1174" y1="866" x2="1142" y2="866"/>
<line x1="1174" y1="935" x2="1142" y2="935"/><line x1="1174" y1="1005" x2="1142" y2="1005"/>
</g>
<line class="ay" x1="1174" y1="1279" x2="1142" y2="1279" marker-end="url(#my)"/>
<g class="ae" marker-end="url(#me)">
<line x1="1505" y1="174" x2="1539" y2="174"/><line x1="1505" y1="247" x2="1539" y2="247"/>
<line x1="1505" y1="315" x2="1539" y2="315"/><line x1="1505" y1="382" x2="1539" y2="382"/>
<line x1="1505" y1="452" x2="1539" y2="452"/><line x1="1505" y1="521" x2="1539" y2="521"/>
<line x1="1505" y1="728" x2="1539" y2="728"/><line x1="1502" y1="799" x2="1536" y2="797"/>
</g>
</g>

<!-- ===== NOTES ===== -->
<text x="16" y="1264" style="text-anchor:start;fill:#FF0000;font-size:18.5px">How to read study plan:</text>
<text x="16" y="1290" style="text-anchor:start;font-size:18px"><tspan class="bo">1.</tspan> The dotted-lined square indicates a pre-requisite class</text>
<text x="1718" y="1049" style="text-anchor:start;font-size:11px">B. Tubanz</text>
</svg>
